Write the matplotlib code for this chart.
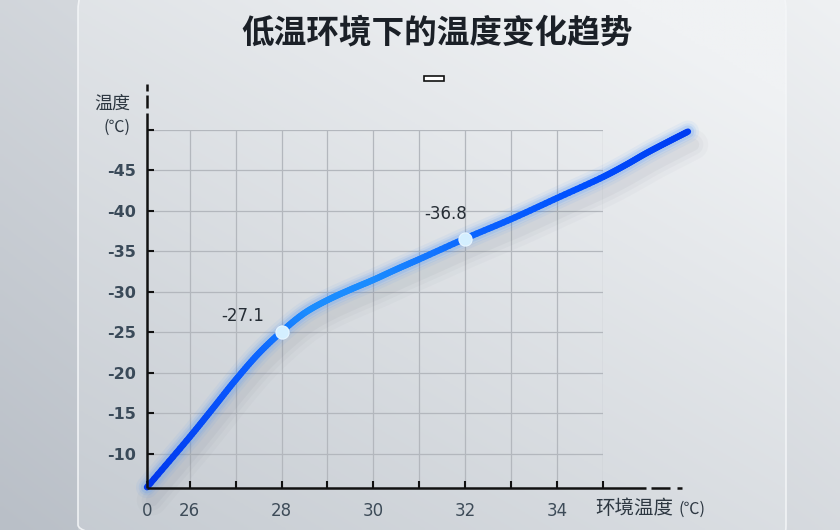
import numpy as np
import matplotlib
matplotlib.use('Agg')
import matplotlib.pyplot as plt
from matplotlib.patches import FancyBboxPatch, Rectangle
from matplotlib.collections import LineCollection
from matplotlib.colors import LinearSegmentedColormap, to_rgb
import matplotlib.transforms as mtransforms

plt.rcParams['font.family'] = ['Noto Sans CJK SC', 'DejaVu Sans']

# ---------------- data ----------------
title = "低温环境下的温度变化趋势"
y_title = "温度"
y_unit = "(℃)"
x_title = "环境温度"
x_unit = "(℃)"

curve_x = [25.07, 26, 26.5, 27, 27.5, 28, 28.5, 29, 29.5, 30, 30.5, 31,
           32, 33, 34, 35, 35.5, 35.93, 36.4, 36.85]
curve_y = [-5.9, -12.1, -15.6, -19.15, -22.4, -25.1, -27.4, -29.0, -30.3, -31.5,
           -32.8, -34.05, -36.6, -39.0, -41.6, -44.2, -45.7, -47.1, -48.5, -49.8]

marker_x = [28, 32]
marker_y = [-25.1, -36.6]
marker_labels = ["-27.1", "-36.8"]

x_ticks = [25.07, 26, 27, 28, 29, 30, 31, 32, 33, 34, 35]
x_tick_labels = ["0", "26", "", "28", "", "30", "", "32", "", "34", ""]
y_ticks = [-10, -15, -20, -25, -30, -35, -40, -45, -50]
y_tick_labels = ["-10", "-15", "-20", "-25", "-30", "-35", "-40", "-45", ""]


def smooth_path(xs, ys, sx=46.0, sy=8.1, n=12):
    """Centripetal Catmull-Rom rendering of the read points (drawing only)."""
    P = np.column_stack([np.asarray(xs) * sx, np.asarray(ys) * sy])
    P = np.vstack([2 * P[0] - P[1], P, 2 * P[-1] - P[-2]])
    out = []
    for i in range(1, len(P) - 2):
        p0, p1, p2, p3 = P[i - 1], P[i], P[i + 1], P[i + 2]
        t0 = 0.0
        t1 = t0 + np.linalg.norm(p1 - p0) ** 0.5
        t2 = t1 + np.linalg.norm(p2 - p1) ** 0.5
        t3 = t2 + np.linalg.norm(p3 - p2) ** 0.5
        for t in np.linspace(t1, t2, n, endpoint=False):
            a1 = (t1 - t) / (t1 - t0) * p0 + (t - t0) / (t1 - t0) * p1
            a2 = (t2 - t) / (t2 - t1) * p1 + (t - t1) / (t2 - t1) * p2
            a3 = (t3 - t) / (t3 - t2) * p2 + (t - t2) / (t3 - t2) * p3
            b1 = (t2 - t) / (t2 - t0) * a1 + (t - t0) / (t2 - t0) * a2
            b2 = (t3 - t) / (t3 - t1) * a2 + (t - t1) / (t3 - t1) * a3
            out.append((t2 - t) / (t2 - t1) * b1 + (t - t1) / (t2 - t1) * b2)
    out.append(P[-2])
    out = np.array(out)
    return out[:, 0] / sx, out[:, 1] / sy


# ---------------- figure ----------------
W, H = 840, 530
fig = plt.figure(figsize=(W / 100, H / 100), dpi=100)

# background
bg = fig.add_axes([0, 0, 1, 1], zorder=-10)
bg.set_xlim(0, W)
bg.set_ylim(H, 0)
bg.axis('off')
xx, yy = np.meshgrid(np.linspace(0, 1, 200), np.linspace(0, 1, 200))
t = np.clip(0.55 * xx + 0.45 * (1 - yy), 0, 1)
dark = np.array(to_rgb('#b9bfc7'))
light = np.array(to_rgb('#eff1f3'))
img = dark[None, None, :] * (1 - t[..., None]) + light[None, None, :] * t[..., None]
bg.imshow(img, extent=[0, W, H, 0], aspect='auto', zorder=0)

card = FancyBboxPatch((78, -20), 708, 575, boxstyle="round,pad=0,rounding_size=30",
                      facecolor='none', edgecolor='#f4f6f8', lw=1.2, alpha=0.9, zorder=3)
bg.add_patch(card)
t2 = np.clip(0.5 * xx + 0.55 * (1 - yy) + 0.08, 0, 1)
dark2 = np.array(to_rgb('#c0c6cd'))
light2 = np.array(to_rgb('#f0f2f4'))
img2 = dark2[None, None, :] * (1 - t2[..., None]) + light2[None, None, :] * t2[..., None]
im2 = bg.imshow(img2, extent=[0, W, H, 0], aspect='auto', zorder=2)
clipcard = FancyBboxPatch((78, -20), 708, 575, boxstyle="round,pad=0,rounding_size=30",
                          transform=bg.transData, facecolor='none', edgecolor='none')
bg.add_patch(clipcard)
im2.set_clip_path(clipcard)

# legend-like small box
bg.add_patch(Rectangle((424, 76), 20, 5, facecolor='white', edgecolor='#111111', lw=1.2, zorder=5))

# title
fig.text(437 / W, 1 - 33 / H, title, ha='center', va='center', fontsize=23.5,
         fontweight='heavy', color='#1b2027')

# ---------------- main axes ----------------
ax_l, ax_r, ax_t, ax_b = 147, 603, 130, 488
ax = fig.add_axes([ax_l / W, 1 - ax_b / H, (ax_r - ax_l) / W, (ax_b - ax_t) / H])
ax.set_facecolor('none')
ax.set_xlim(25.07, 35)
ax.set_ylim(-5.8, -50)
for s in ax.spines.values():
    s.set_visible(False)

# grid
for gx in range(26, 36):
    ax.axvline(gx, color='#b3b7bd', lw=0.9, zorder=1)
for gy in y_ticks:
    ax.axhline(gy, color='#b3b7bd', lw=0.9, zorder=1)

ax.set_xticks(x_ticks)
ax.set_xticklabels(x_tick_labels)
ax.set_yticks(y_ticks)
ax.set_yticklabels(y_tick_labels)
ax.tick_params(axis='x', direction='in', length=5, width=1.5, color='#111111',
               pad=10, labelsize=12, labelcolor='#3d4b58')
ax.tick_params(axis='y', direction='in', length=5, width=1.5, color='#111111',
               pad=8, labelcolor='#3a4a59')
for lab in ax.get_xticklabels():
    lab.set_fontfamily(['DejaVu Sans'])
for lab in ax.get_yticklabels():
    lab.set_fontfamily(['DejaVu Sans'])
    lab.set_fontweight('bold')
    lab.set_fontsize(11.5)

# custom spines (axes coords)
kw = dict(transform=ax.transAxes, clip_on=False, color='#111111', lw=1.8,
          solid_capstyle='butt', zorder=6)
ax.plot([0, 1.094], [0, 0], **kw)
ax.plot([1.105, 1.147], [0, 0], **kw)
ax.plot([1.162, 1.173], [0, 0], **kw)
ax.plot([0, 0], [0, 1.047], **kw)
ax.plot([0, 0], [1.061, 1.098], **kw)
ax.plot([0, 0], [1.109, 1.128], **kw)

# smooth rendering of the curve
sx_, sy_ = smooth_path(curve_x, curve_y)

# shadow
shadow_tr = mtransforms.offset_copy(ax.transData, fig=fig, x=5, y=-13, units='dots')
for lw, a in [(22, 0.03), (15, 0.04), (9, 0.05)]:
    ax.plot(sx_, sy_, color='#5a6270', lw=lw, alpha=a, transform=shadow_tr,
            clip_on=False, solid_capstyle='round', solid_joinstyle='round', zorder=2)

# glow
for lw, a in [(16, 0.06), (12, 0.09), (9, 0.14)]:
    ax.plot(sx_, sy_, color='#3388ff', lw=lw, alpha=a, clip_on=False,
            solid_capstyle='round', solid_joinstyle='round', zorder=3)

# gradient line
cmap = LinearSegmentedColormap.from_list('blu', [
    (0.0, '#0036ee'), (0.18, '#0a5cff'), (0.30, '#1b8dff'), (0.42, '#1b8cff'),
    (0.62, '#0a62ff'), (0.80, '#0050ff'), (1.0, '#003cf2')])
pts = np.column_stack([sx_, sy_]).reshape(-1, 1, 2)
segs = np.concatenate([pts[:-1], pts[1:]], axis=1)
cval = (sx_[:-1] - sx_[0]) / (sx_[-1] - sx_[0])
lc = LineCollection(segs, cmap=cmap, array=cval, linewidths=4.6, capstyle='round',
                    joinstyle='round', clip_on=False, zorder=4)
ax.add_collection(lc)

# markers
ax.plot(marker_x, marker_y, 'o', ms=9.5, mfc='#d4efff', mec='#e9f7ff', mew=0.8,
        zorder=7, clip_on=False)
offsets = [(-28, 11), (-14, 18)]
for mx, my, lab, off in zip(marker_x, marker_y, marker_labels, offsets):
    ax.annotate(lab, (mx, my), xytext=off, textcoords='offset points',
                ha='center', va='center', fontsize=12, color='#262d35',
                fontfamily=['DejaVu Sans'], zorder=8)

# axis titles
fig.text(112 / W, 1 - 104 / H, y_title, ha='center', va='center', fontsize=13,
         color='#2d3741')
fig.text(117 / W, 1 - 127 / H, y_unit, ha='center', va='center', fontsize=11.5,
         color='#2d3741')
fig.text(595 / W, 1 - 508 / H, x_title, ha='left', va='center', fontsize=14,
         color='#2d3741')
fig.text(679 / W, 1 - 509 / H, x_unit, ha='left', va='center', fontsize=11.5,
         color='#2d3741')

fig.savefig('out.png', dpi=100)
